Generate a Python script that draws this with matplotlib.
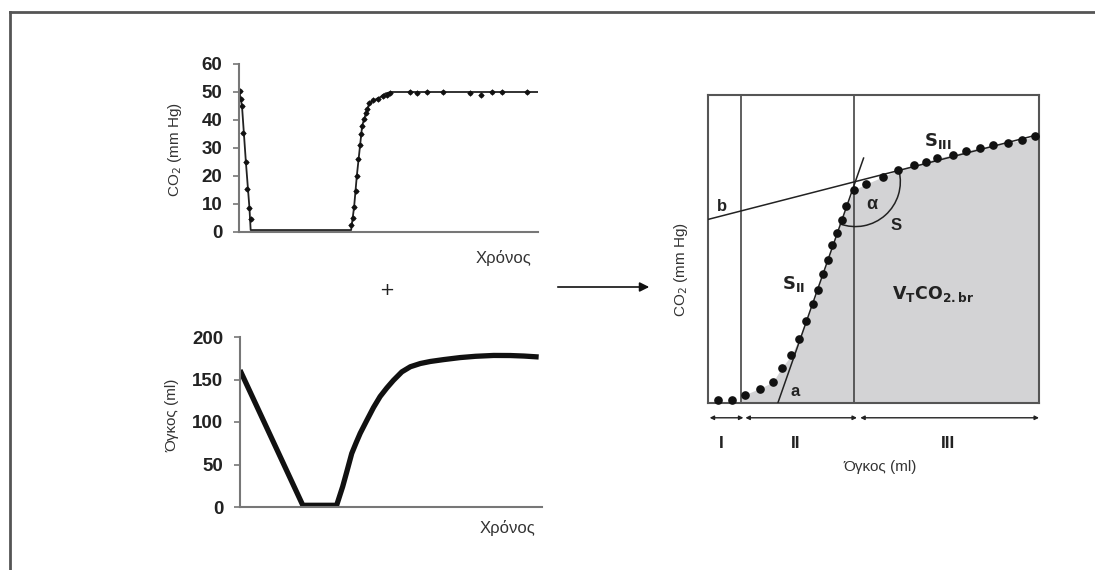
import numpy as np
import matplotlib.pyplot as plt
from matplotlib.patches import Arc, FancyArrowPatch
from matplotlib.lines import Line2D

# top-left: CO2 vs time (capnogram)
line_t = [0, 0.3, 1.0, 2.3, 3.5, 3.9, 37.5, 38.5, 39.4, 40.5, 41.2, 42.5, 43.6, 45.0, 47.0, 49.0, 51.0, 100]
line_co2 = [50, 49, 45, 25, 8.5, 0.7, 0.7, 9, 20, 31, 38, 42.5, 46, 47, 48, 49.5, 50, 50]
pts_t = [0.3, 0.7, 1.0, 1.2, 2.3, 2.8, 3.5, 3.9,
         37.5, 38.0, 38.5, 39.0, 39.4, 39.9, 40.5, 40.8, 41.2, 41.8, 42.5, 42.9, 43.6,
         44.9, 46.6, 48.3, 49.4, 50.5, 57.2, 59.4, 62.8, 68.3, 77.3, 80.9, 84.5, 87.8, 96.2]
pts_co2 = [50.5, 47.5, 45, 35.5, 25, 15.5, 8.5, 4.5,
           2.5, 5, 9, 14.5, 20, 26, 31, 35, 38, 40.5, 42.5, 44, 46,
           47, 47.5, 48.5, 49, 49.5, 50, 49.5, 50, 50, 49.5, 49, 50, 50, 50]

# bottom-left: volume vs time
vol_t = [0, 20.8, 32.0, 33.0, 34.0, 35.4, 37.0, 38.5, 39.8, 42.0, 44.2, 46.4, 48.6, 50.8,
         53.6, 56.4, 59.7, 63.0, 67.4, 72.9, 78.0, 84.0, 89.5, 94.0, 98.9]
vol_ml = [161, 2, 2, 13, 24, 42, 63, 76, 86.7, 102, 117, 130, 140, 149,
          159, 165, 168.8, 171.2, 173.4, 175.8, 177.3, 178.3, 178.2, 177.6, 176.5]

# right: CO2 vs volume (volumetric capnogram)
cap_v = [3.0, 7.2, 11.1, 15.6, 19.6, 22.3, 25.2, 27.4, 29.7, 31.7, 33.1, 34.7, 36.2, 37.6,
         39.1, 40.4, 41.8, 44.0, 47.7, 53.0, 57.5, 62.1, 65.8, 69.3, 73.9, 78.0, 82.2,
         86.2, 90.7, 94.8, 98.8]
cap_co2 = [1.1, 1.1, 2.7, 4.7, 6.8, 11.5, 15.5, 20.7, 26.7, 32.1, 36.8, 42.0, 46.4, 51.2,
           55.3, 59.4, 63.9, 69.1, 71.1, 73.5, 75.8, 77.2, 78.3, 79.6, 80.5, 81.9, 82.9,
           83.7, 84.5, 85.4, 86.7]
phase_bounds = [10.1, 44.2]
s3_intercept, s3_slope = 59.6, 0.276
s2_x0, s2_slope, s2_xend = 21.1, 3.07, 47.0

txt = '#333333'
axc = '#777777'
num_font = ['Liberation Sans', 'DejaVu Sans']
lab_font = ['Liberation Sans Narrow', 'Liberation Sans', 'DejaVu Sans']

fig = plt.figure(figsize=(10.95, 5.70), dpi=100)

# frame (top and left only)
fig.add_artist(Line2D([10 / 1095, 1], [1 - 12 / 570] * 2, color='#555555', lw=2))
fig.add_artist(Line2D([10 / 1095] * 2, [0, 1 - 12 / 570], color='#555555', lw=2))


def style_left(ax, ymax, yticks):
    ax.set_xlim(0, 100)
    ax.set_ylim(0, ymax)
    for s in ['top', 'right']:
        ax.spines[s].set_visible(False)
    for s in ['left', 'bottom']:
        ax.spines[s].set_color(axc)
        ax.spines[s].set_linewidth(1.5)
    ax.set_xticks([])
    ax.set_yticks(yticks)
    ax.tick_params(axis='y', length=4, width=1.2, color=axc, pad=8)
    for lab in ax.get_yticklabels():
        lab.set_fontfamily(num_font)
        lab.set_fontweight('bold')
        lab.set_fontsize(13.5)
        lab.set_color('#222222')
    ax.patch.set_alpha(0)


ax1 = fig.add_axes([239 / 1095, 1 - 232 / 570, 299 / 1095, 168 / 570])
ax1.plot(line_t, line_co2, color='#222222', lw=1.3)
ax1.plot(pts_t, pts_co2, ls='none', marker='o', ms=2.6, color='#111111')
ax1.plot(pts_t, pts_co2, ls='none', marker='+', ms=5, mew=0.8, color='#111111')
style_left(ax1, 60, [0, 10, 20, 30, 40, 50, 60])

ax2 = fig.add_axes([240 / 1095, 1 - 507 / 570, 302 / 1095, 170 / 570])
ax2.plot(vol_t, vol_ml, color='#111111', lw=3.8, solid_capstyle='butt', solid_joinstyle='round')
style_left(ax2, 200, [0, 50, 100, 150, 200])

fig.text(175 / 1095, 1 - 150 / 570, 'CO$_2$ (mm Hg)', rotation=90, ha='center', va='center',
         fontsize=11, color=txt, family=lab_font)
fig.text(503 / 1095, 1 - 258 / 570, 'Χρόνος', ha='center', va='center', fontsize=12,
         color=txt, family=lab_font)
fig.text(172 / 1095, 1 - 415 / 570, 'Όγκος (ml)', rotation=90, ha='center', va='center',
         fontsize=11, color=txt, family=lab_font)
fig.text(508 / 1095, 1 - 528 / 570, 'Χρόνος', ha='center', va='center', fontsize=12,
         color=txt, family=lab_font)
fig.text(387 / 1095, 1 - 290 / 570, '+', ha='center', va='center', fontsize=13, color='#222222')

fig.add_artist(FancyArrowPatch((555 / 1095, 1 - 287 / 570), (652 / 1095, 1 - 287 / 570),
                               transform=fig.transFigure, arrowstyle='-|>', mutation_scale=14,
                               color='#111111', lw=1.2))

# right panel
ax3 = fig.add_axes([708 / 1095, 1 - 403 / 570, 331 / 1095, 308 / 570])
ax3.set_xlim(0, 100)
ax3.set_ylim(0, 100)
ax3.set_xticks([])
ax3.set_yticks([])
for s in ax3.spines.values():
    s.set_color('#555555')
    s.set_linewidth(1.5)

fx = np.linspace(phase_bounds[0], 100, 300)
fy = np.interp(fx, cap_v, cap_co2)
ax3.fill_between(fx, 0, fy, color='#d3d3d5', lw=0, zorder=1)

for xb in phase_bounds:
    ax3.axvline(xb, color='#444444', lw=1.2, zorder=2)

xs3 = np.array([0, 100])
ax3.plot(xs3, s3_intercept + s3_slope * xs3, color='#222222', lw=1.1, zorder=3)
xs2 = np.array([s2_x0, s2_xend])
ax3.plot(xs2, s2_slope * (xs2 - s2_x0), color='#222222', lw=1.1, zorder=3)
ax3.plot(cap_v, cap_co2, ls='none', marker='o', ms=5.2, color='#111111', zorder=4, clip_on=False)

# angle arc at the intersection of the two slopes
xi = (s3_intercept + s2_slope * s2_x0) / (s2_slope - s3_slope)
yi = s3_intercept + s3_slope * xi
r_px = 45
ax3.add_patch(Arc((xi, yi), 2 * r_px / 3.31, 2 * r_px / 3.08, theta1=-109, theta2=15,
                  color='#222222', lw=1.1, zorder=3))

bold = dict(fontweight='bold', color='#222222', family=num_font, ha='center', va='center')
ax3.text(4.2, 63.9, 'b', fontsize=12, **bold)
ax3.text(49.5, 64.6, 'α', fontsize=13, **bold)
ax3.text(56.8, 57.7, 'S', fontsize=12, **bold)
ax3.text(26.4, 3.8, 'a', fontsize=12, **bold)
ax3.text(69.6, 85.0, r'$\mathbf{S}_{\mathbf{III}}$', fontsize=13, **bold)
ax3.text(25.9, 38.6, r'$\mathbf{S}_{\mathbf{II}}$', fontsize=13, **bold)
ax3.text(68.1, 35.5, r'$\mathbf{V_TCO_{2.br}}$', fontsize=12.5, **bold)

spans = [(0.5, 10.7), (11.3, 45.0), (46.0, 100)]
names = ['I', 'II', 'III']
for (a, b), nm in zip(spans, names):
    ax3.annotate('', xy=(b, -4.8), xytext=(a, -4.8), xycoords='data',
                 arrowprops=dict(arrowstyle='<|-|>', color='#222222', lw=1.0,
                                 mutation_scale=6, shrinkA=0, shrinkB=0),
                 annotation_clip=False)
ax3.text(3.9, -13, 'I', fontsize=12.5, clip_on=False, **bold)
ax3.text(26.6, -13, 'II', fontsize=12.5, clip_on=False, **bold)
ax3.text(72.6, -13, 'III', fontsize=12.5, clip_on=False, **bold)

fig.text(880 / 1095, 1 - 467 / 570, 'Όγκος (ml)', ha='center', va='center', fontsize=11,
         color=txt, family=lab_font)
fig.text(681 / 1095, 1 - 270 / 570, 'CO$_2$ (mm Hg)', rotation=90, ha='center', va='center',
         fontsize=11, color=txt, family=lab_font)

fig.savefig('out.png', dpi=100)
